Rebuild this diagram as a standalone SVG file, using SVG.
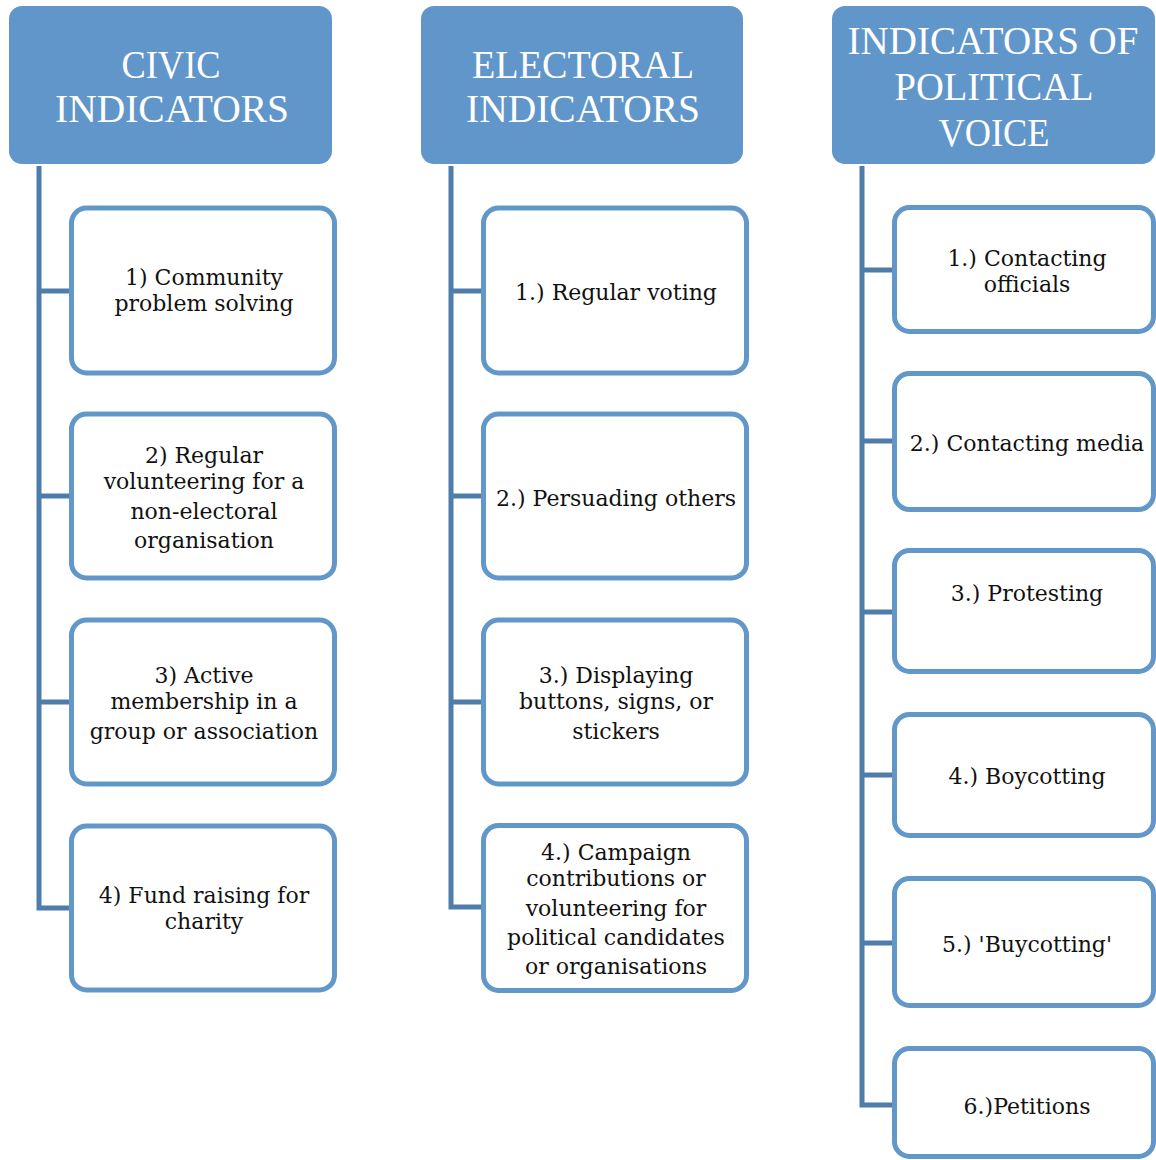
<svg xmlns="http://www.w3.org/2000/svg" width="1156" height="1160" viewBox="0 0 1156 1160">
<style>
.hdr{fill:#6096c9}
.ht{fill:#ffffff;font-family:"Liberation Serif",serif;font-size:40px;text-anchor:middle}
.box{fill:#ffffff;stroke:#6297ca;stroke-width:5}
.bt{fill:#111111;font-family:"DejaVu Serif",serif;font-size:22px;text-anchor:middle}
.con{fill:none;stroke:#4f7dab;stroke-width:5;stroke-linejoin:miter}
</style>
<rect width="1156" height="1160" fill="#ffffff"/>
<g id="connectors">
<path class="con" d="M39 166V908H72M39 291H72M39 496H72M39 702H72"/>
<path class="con" d="M451 166V907H484M451 291H484M451 496H484M451 702H484"/>
<path class="con" d="M862 166V1105H895M862 270H895M862 441H895M862 612H895M862 775H895M862 943H895"/>
</g>
<g id="civic-header"><rect class="hdr" x="9" y="6" width="323" height="158" rx="13"/>
<text class="ht" x="171" y="78" textLength="99" lengthAdjust="spacingAndGlyphs">CIVIC</text>
<text class="ht" x="172" y="122" textLength="234" lengthAdjust="spacingAndGlyphs">INDICATORS</text></g>
<g id="electoral-header"><rect class="hdr" x="421" y="6" width="322" height="158" rx="13"/>
<text class="ht" x="583" y="78" textLength="222" lengthAdjust="spacingAndGlyphs">ELECTORAL</text>
<text class="ht" x="583" y="122" textLength="234" lengthAdjust="spacingAndGlyphs">INDICATORS</text></g>
<g id="voice-header"><rect class="hdr" x="832" y="6" width="323" height="158" rx="13"/>
<text class="ht" x="993" y="54" textLength="291" lengthAdjust="spacingAndGlyphs">INDICATORS OF</text>
<text class="ht" x="994" y="100" textLength="199" lengthAdjust="spacingAndGlyphs">POLITICAL</text>
<text class="ht" x="994" y="146" textLength="111" lengthAdjust="spacingAndGlyphs">VOICE</text></g>

<g id="civic-1"><rect class="box" x="71.5" y="208" width="263" height="165" rx="15"/>
<text class="bt" x="204" y="285">1) Community</text><text class="bt" x="204" y="311">problem solving</text></g>
<g id="civic-2"><rect class="box" x="71.5" y="414" width="263" height="164" rx="15"/>
<text class="bt" x="204" y="463">2) Regular</text><text class="bt" x="204" y="489">volunteering for a</text><text class="bt" x="204" y="519">non-electoral</text><text class="bt" x="204" y="548">organisation</text></g>
<g id="civic-3"><rect class="box" x="71.5" y="620" width="263" height="164" rx="15"/>
<text class="bt" x="204" y="683">3) Active</text><text class="bt" x="204" y="709">membership in a</text><text class="bt" x="204" y="739">group or association</text></g>
<g id="civic-4"><rect class="box" x="71.5" y="826" width="263" height="164" rx="15"/>
<text class="bt" x="204" y="903">4) Fund raising for</text><text class="bt" x="204" y="929">charity</text></g>

<g id="electoral-1"><rect class="box" x="483.5" y="208" width="263" height="165" rx="15"/>
<text class="bt" x="616" y="300">1.) Regular voting</text></g>
<g id="electoral-2"><rect class="box" x="483.5" y="414" width="263" height="164" rx="15"/>
<text class="bt" x="616" y="506">2.) Persuading others</text></g>
<g id="electoral-3"><rect class="box" x="483.5" y="620" width="263" height="164" rx="15"/>
<text class="bt" x="616" y="683">3.) Displaying</text><text class="bt" x="616" y="709">buttons, signs, or</text><text class="bt" x="616" y="739">stickers</text></g>
<g id="electoral-4"><rect class="box" x="483.5" y="825.5" width="263" height="165" rx="15"/>
<text class="bt" x="616" y="860">4.) Campaign</text><text class="bt" x="616" y="886">contributions or</text><text class="bt" x="616" y="916">volunteering for</text><text class="bt" x="616" y="945">political candidates</text><text class="bt" x="616" y="974">or organisations</text></g>

<g id="voice-1"><rect class="box" x="894.5" y="207.5" width="259" height="124" rx="15"/>
<text class="bt" x="1027" y="266">1.) Contacting</text><text class="bt" x="1027" y="292">officials</text></g>
<g id="voice-2"><rect class="box" x="894.5" y="373.5" width="259" height="136" rx="15"/>
<text class="bt" x="1027" y="451">2.) Contacting media</text></g>
<g id="voice-3"><rect class="box" x="894.5" y="550.5" width="259" height="121" rx="15"/>
<text class="bt" x="1027" y="601">3.) Protesting</text></g>
<g id="voice-4"><rect class="box" x="894.5" y="714.5" width="259" height="121" rx="15"/>
<text class="bt" x="1027" y="784">4.) Boycotting</text></g>
<g id="voice-5"><rect class="box" x="894.5" y="878.5" width="259" height="127" rx="15"/>
<text class="bt" x="1027" y="952">5.) 'Buycotting'</text></g>
<g id="voice-6"><rect class="box" x="894.5" y="1048.5" width="259" height="108" rx="15"/>
<text class="bt" x="1027" y="1114">6.)Petitions</text></g>
</svg>
